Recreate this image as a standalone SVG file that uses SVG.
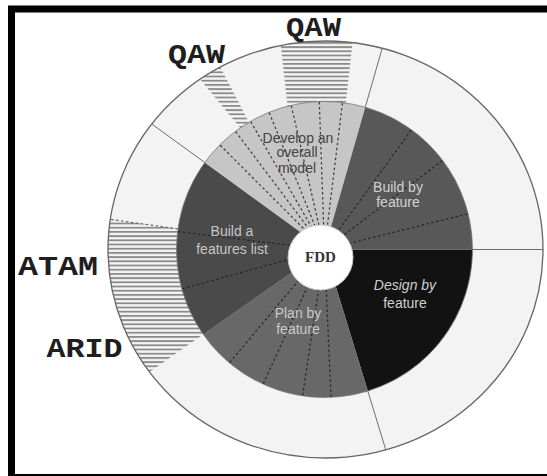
<svg xmlns="http://www.w3.org/2000/svg" width="547" height="476" viewBox="0 0 547 476">
<style>
.dash{stroke-dasharray:2.5 2.5;stroke-width:1.2;fill:none}
.dl{stroke:#3a3a3a}
.dd{stroke:#262626}
.div{stroke:#6e6e6e;stroke-width:1;fill:none}
.lbl{font-family:"Liberation Mono","Courier New",monospace;font-weight:bold;font-size:28px;fill:#1e1e1e;text-anchor:middle}
.st{font-family:"Liberation Sans",Arial,sans-serif;font-size:14px;text-anchor:middle}
</style>
<defs>
<pattern id="hatch" patternUnits="userSpaceOnUse" width="8" height="4.2"><rect width="8" height="4.2" fill="#f4f4f4"/><rect y="0" width="8" height="1.8" fill="#8a8a8a"/></pattern>
<clipPath id="ringClip"><ellipse cx="325.5" cy="249.5" rx="217.5" ry="208.5"/></clipPath>
</defs>
<rect width="547" height="476" fill="#ffffff"/>
<g id="frame">
<path d="M11.5 476 V9 H547" fill="none" stroke="#000" stroke-width="7"/>
<rect x="8" y="474" width="539" height="2" fill="#000"/>
</g>
<g id="ring">
<ellipse cx="325.5" cy="249.5" rx="217.5" ry="208.5" fill="#f3f3f3"/>
</g>
<g id="hatch-areas" clip-path="url(#ringClip)">
<g id="hatch-qaw-top"><polygon points="279,30 288,110 345,110 354,30" fill="url(#hatch)"/></g>
<g id="hatch-qaw-left"><polygon points="180,55 214,55 253,130 242,130" fill="url(#hatch)"/></g>
<g id="hatch-atam-arid"><polygon points="324.5,249.5 -71.6,193.8 -71.6,478.9 -3.2,478.9" fill="url(#hatch)"/></g>
</g>
<g id="sector-design-by-feature">
<path d="M324.5 249.5 L472.5 249.5 A148 148 0 0 1 367.8 391 Z" fill="#121212"/>
<text class="st" x="405" y="290" fill="#cfcfcf" font-style="italic">Design by</text>
<text class="st" x="405" y="308" fill="#cfcfcf">feature</text>
</g>
<g id="sector-plan-by-feature">
<path d="M324.5 249.5 L367.8 391 A148 148 0 0 1 203.3 334.4 Z" fill="#686868"/>
</g>
<g id="sector-build-features-list">
<path d="M324.5 249.5 L203.3 334.4 A148 148 0 0 1 204.8 162.5 Z" fill="#4a4a4a"/>
</g>
<g id="sector-develop-model">
<path d="M324.5 249.5 L204.8 162.5 A148 148 0 0 1 365.3 107.2 Z" fill="#c6c6c6"/>
</g>
<g id="sector-build-by-feature">
<path d="M324.5 249.5 L365.3 107.2 A148 148 0 0 1 472.5 249.5 Z" fill="#585858"/>
</g>
<circle cx="324.5" cy="249.5" r="148" fill="none" stroke="#777" stroke-width="0.8"/>
<g id="connectors">
<g class="dash dl">
<line x1="324.5" y1="249.5" x2="219.8" y2="144.8"/>
<line x1="324.5" y1="249.5" x2="235.4" y2="131.3"/>
<line x1="324.5" y1="249.5" x2="250.5" y2="121.3"/>
<line x1="324.5" y1="249.5" x2="269.1" y2="112.3"/>
<line x1="324.5" y1="249.5" x2="291.2" y2="105.3"/>
<line x1="324.5" y1="249.5" x2="319.3" y2="101.6"/>
<line x1="324.5" y1="249.5" x2="342.5" y2="102.6"/>
</g>
<g class="dash dd">
<line x1="324.5" y1="249.5" x2="411.5" y2="129.8"/>
<line x1="324.5" y1="249.5" x2="442.7" y2="160.4"/>
<line x1="324.5" y1="249.5" x2="468.1" y2="213.7"/>
<line x1="324.5" y1="249.5" x2="181.9" y2="289"/>
<line x1="324.5" y1="249.5" x2="177.6" y2="231.5"/>
<line x1="324.5" y1="249.5" x2="229.4" y2="362.9"/>
<line x1="324.5" y1="249.5" x2="263.1" y2="384.2"/>
<line x1="324.5" y1="249.5" x2="302.6" y2="395.9"/>
<line x1="324.5" y1="249.5" x2="331" y2="397.4"/>
</g>
<g clip-path="url(#ringClip)">
<line class="div" x1="472.5" y1="249.5" x2="560" y2="249.5"/>
<line class="div" x1="367.8" y1="391" x2="394.7" y2="479"/>
<line class="div" x1="365.3" y1="107.2" x2="390.6" y2="18.8"/>
<line class="div" x1="204.8" y1="162.5" x2="130.3" y2="108.4"/>
<line class="dash" stroke="#666" x1="177.9" y1="228.9" x2="86.8" y2="216.1"/>
</g>
</g>
<ellipse cx="325.5" cy="249.5" rx="217.5" ry="208.5" fill="none" stroke="#666" stroke-width="1.3"/>
<g id="fdd">
<circle cx="320.5" cy="257.5" r="32.5" fill="#ffffff" stroke="#c8c8c8" stroke-width="1"/>
<text x="320.5" y="262" text-anchor="middle" font-family="Liberation Serif, serif" font-weight="bold" font-size="15" fill="#333">FDD</text>
</g>
<g id="labels-sectors">
<text class="st" x="298" y="142.5" fill="#444">Develop an</text>
<text class="st" x="297" y="157" fill="#444">overall</text>
<text class="st" x="297" y="172.5" fill="#444">model</text>
<text class="st" x="398" y="191.5" fill="#d2d2d2">Build by</text>
<text class="st" x="398" y="207" fill="#d2d2d2">feature</text>
<text class="st" x="232" y="236" fill="#c6c6c6">Build a</text>
<text class="st" x="232" y="254" fill="#c6c6c6">features list</text>
<text class="st" x="298" y="318" fill="#cacaca">Plan by</text>
<text class="st" x="298" y="334" fill="#cacaca">feature</text>
</g>
<g id="label-qaw-top"><text class="lbl" x="313.5" y="36" textLength="55" lengthAdjust="spacingAndGlyphs">QAW</text></g>
<g id="label-qaw-left"><text class="lbl" x="196.5" y="63" textLength="57" lengthAdjust="spacingAndGlyphs">QAW</text></g>
<g id="label-atam"><text class="lbl" x="58" y="275" textLength="80" lengthAdjust="spacingAndGlyphs">ATAM</text></g>
<g id="label-arid"><text class="lbl" x="84.5" y="357" textLength="76" lengthAdjust="spacingAndGlyphs">ARID</text></g>
</svg>
